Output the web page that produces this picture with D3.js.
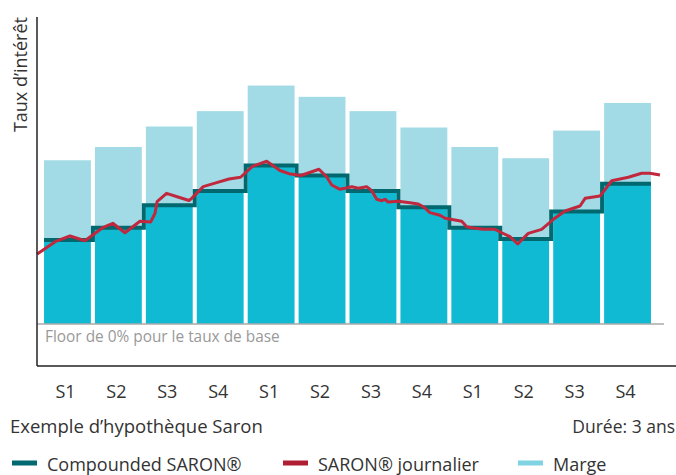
<!DOCTYPE html>
<html>
  <head>
    <style>
    body { margin: 0; background: #fff; }
    text { font-family: 'Open Sans', sans-serif; fill: #333; }
    </style>
  </head>
  <body>

    <svg width="676" height="475"></svg>

    <script src="https://cdn.jsdelivr.net/npm/d3@7"></script>
    <script>

      // one label per quarter, three years
      const periods = ['S1', 'S2', 'S3', 'S4', 'S1', 'S2', 'S3', 'S4', 'S1', 'S2', 'S3', 'S4']
      // compounded SARON per period (%)
      const compounded = [0.82, 0.94, 1.16, 1.30, 1.55, 1.45, 1.30, 1.14, 0.94, 0.83, 1.10, 1.37]
      // margin stacked on top (%)
      const marge = [0.78, 0.79, 0.77, 0.78, 0.78, 0.77, 0.78, 0.78, 0.79, 0.79, 0.79, 0.79]
      // daily SARON: month, value (%)
      const dailyMonth = [-0.28, 0.77, 1.65, 2.53, 3.61, 4.17, 4.89, 5.77, 6.40, 6.66, 6.78, 7.34, 8.01, 8.66, 8.82,
        9.50, 10.29, 11.02, 11.70, 12.40, 13.24, 14.02, 14.55, 15.26, 16.32, 16.77, 17.07, 17.56, 17.85, 18.25,
        18.64, 19.13, 19.43, 19.72, 20.02, 20.21, 20.40, 20.99, 21.68, 22.17, 22.47, 22.86, 23.45, 23.75, 24.33,
        24.73, 25.02, 25.41, 26.00, 26.69, 27.09, 27.57, 28.03, 28.65, 29.44, 30.13, 30.82, 31.70, 32.00, 32.88,
        33.57, 34.55, 35.33, 35.82, 36.41]
      const dailyValue = [0.684, 0.804, 0.860, 0.814, 0.945, 0.984, 0.892, 1.004, 0.997, 1.082, 1.195, 1.277, 1.241, 1.207, 1.228,
        1.342, 1.381, 1.417, 1.434, 1.541, 1.590, 1.500, 1.469, 1.451, 1.512, 1.439, 1.358, 1.316, 1.326, 1.342,
        1.326, 1.342, 1.303, 1.219, 1.205, 1.219, 1.192, 1.199, 1.185, 1.173, 1.146, 1.088, 1.062, 1.033, 1.016,
        1.004, 0.951, 0.938, 0.925, 0.925, 0.892, 0.853, 0.782, 0.886, 0.925, 1.023, 1.104, 1.153, 1.228, 1.251,
        1.400, 1.434, 1.473, 1.473, 1.456]

      const colors = {
        marge: '#a2dbe6',
        base: '#10bad3',
        compounded: '#00686e',
        daily: '#c0283d'
      }

      const svg = d3.select('svg')
      const plotLeft = 37, plotTop = 17, floorY = 324, axisY = 366

      const x = d3.scaleBand()
          .domain(d3.range(periods.length))
          .range([42, 653])
          .paddingInner(0.08)
          .paddingOuter(0.04)
      const gap = x.step() - x.bandwidth()
      const xm = d3.scaleLinear().domain([0, 36]).range([42, 653])
      const y = d3.scaleLinear().domain([0, 3]).range([floorY, plotTop])

      // bars: base rate then margin on top
      svg.append('g').selectAll('rect')
        .data(compounded)
        .enter().append('rect')
          .attr('x', (d, i) => x(i))
          .attr('y', d => y(d))
          .attr('width', x.bandwidth())
          .attr('height', d => floorY - y(d))
          .attr('fill', colors.base)

      svg.append('g').selectAll('rect')
        .data(marge)
        .enter().append('rect')
          .attr('x', (d, i) => x(i))
          .attr('y', (d, i) => y(compounded[i] + d))
          .attr('width', x.bandwidth())
          .attr('height', (d, i) => y(compounded[i]) - y(compounded[i] + d))
          .attr('fill', colors.marge)

      // floor line + note
      svg.append('line')
          .attr('x1', plotLeft).attr('x2', 664)
          .attr('y1', floorY).attr('y2', floorY)
          .attr('stroke', '#aaa').attr('stroke-width', 1.5)
      svg.append('text')
          .attr('x', 45).attr('y', 342)
          .style('font-size', '15.4px').style('fill', '#999')
          .text('Floor de 0% pour le taux de base')

      // compounded step line
      const steps = []
      compounded.forEach((d, i) => {
        const x0 = i === 0 ? x(i) : x(i) - gap / 2
        const x1 = i === compounded.length - 1 ? x(i) + x.bandwidth() : x(i) + x.bandwidth() + gap / 2
        steps.push([x0, y(d)], [x1, y(d)])
      })
      svg.append('path')
          .attr('d', d3.line()(steps))
          .attr('fill', 'none')
          .attr('stroke', colors.compounded)
          .attr('stroke-width', 4)
          .attr('stroke-linejoin', 'miter')

      // daily SARON
      const daily = dailyMonth.map((m, i) => [m, dailyValue[i]])
      svg.append('path')
          .attr('d', d3.line().x(d => xm(d[0])).y(d => y(d[1]))(daily))
          .attr('fill', 'none')
          .attr('stroke', colors.daily)
          .attr('stroke-width', 3)
          .attr('stroke-linejoin', 'round')

      // axes
      svg.append('line')
          .attr('x1', plotLeft).attr('x2', plotLeft)
          .attr('y1', plotTop).attr('y2', axisY)
          .attr('stroke', '#222').attr('stroke-width', 1.5)
      svg.append('line')
          .attr('x1', plotLeft).attr('x2', 676)
          .attr('y1', axisY).attr('y2', axisY)
          .attr('stroke', '#222').attr('stroke-width', 1.5)

      const xAxis = svg.append('g')
          .attr('transform', 'translate(-2,398)')
          .call(d3.axisBottom(x).tickSize(0).tickFormat(i => periods[i]))
      xAxis.select('.domain').remove()
      xAxis.selectAll('text')
          .style('font-size', '18px')
          .attr('y', 0).attr('dy', 0)

      svg.append('text')
          .attr('transform', 'translate(27,' + plotTop + ') rotate(-90)')
          .attr('text-anchor', 'end')
          .style('font-size', '18px')
          .text('Taux d’intérêt')

      svg.append('text')
          .attr('x', 10).attr('y', 433)
          .style('font-size', '18.5px')
          .text('Exemple d’hypothèque Saron')
      svg.append('text')
          .attr('x', 675).attr('y', 433)
          .attr('text-anchor', 'end')
          .style('font-size', '17.5px')
          .text('Durée: 3 ans')

      // legend
      const legend = [
        { label: 'Compounded SARON®', color: '#006a70', x: 12 },
        { label: 'SARON® journalier', color: '#b01e32', x: 283 },
        { label: 'Marge', color: '#7fd3e3', x: 518 }
      ]
      const lg = svg.append('g').selectAll('g')
        .data(legend)
        .enter().append('g')
          .attr('transform', d => 'translate(' + d.x + ',463)')
      lg.append('rect')
          .attr('y', -2.5).attr('width', 25).attr('height', 5)
          .attr('fill', d => d.color)
      lg.append('text')
          .attr('x', 35).attr('y', 8)
          .style('font-size', '18px')
          .text(d => d.label)

    </script>
  </body>
</html>
